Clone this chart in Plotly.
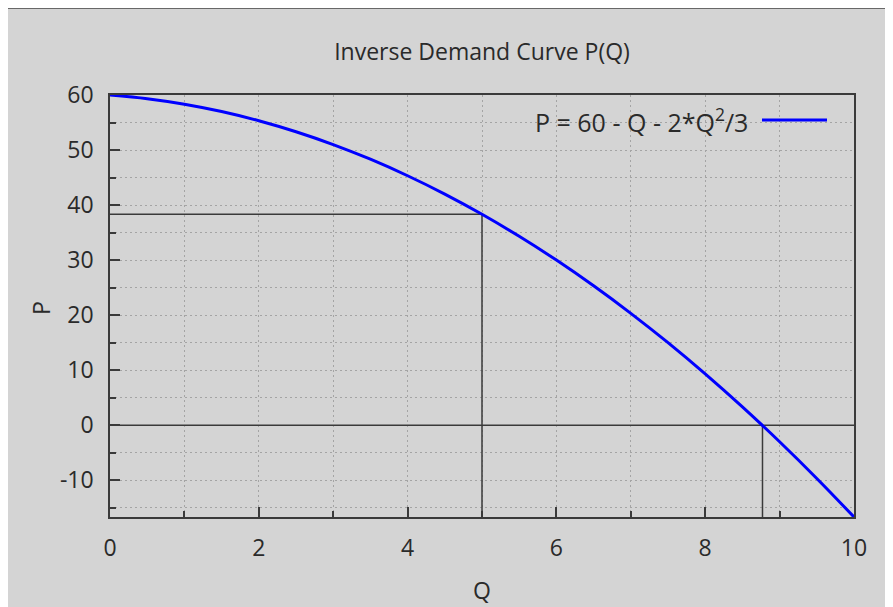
import plotly.graph_objects as go

# Data
Q = [0, 0.5, 1, 1.5, 2, 2.5, 3, 3.5, 4, 4.5, 5, 5.5, 6, 6.5, 7, 7.5, 8, 8.5, 9, 9.5, 10]
P = [60, 59.33, 58.33, 57.0, 55.33, 53.33, 51.0, 48.33, 45.33, 42.0, 38.33,
     34.33, 30.0, 25.33, 20.33, 15.0, 9.33, 3.33, -3.0, -9.67, -16.67]
q_point = 5
p_point = 38.33
q_zero = 8.77
x_ticks = [0, 2, 4, 6, 8, 10]
x_tick_labels = ["0", "2", "4", "6", "8", "10"]
y_ticks = [-10, 0, 10, 20, 30, 40, 50, 60]
y_tick_labels = ["-10", "0", "10", "20", "30", "40", "50", "60"]
legend_label = "P = 60 - Q - 2*Q<sup>2</sup>/3"
title_text = "Inverse Demand Curve P(Q)"

ymin = P[-1]
ymax = P[0]
xmin = Q[0]
xmax = Q[-1]

BG = "#d4d4d4"
TXT = "#2a2a2a"
LINE = "#3a3a3a"
GRID = "#a4a4a4"
GDASH = "2px,3px"
FONT = "Open Sans"
FS = 23

# page offset (body margin) compensation
OFF = 8
W, H = 893, 607
L, R, T, B = 110 - OFF, 39 + OFF, 95 - OFF, 90 + OFF
pw = W - L - R
ph = H - T - B

def px(x):
    return (x - OFF - L) / pw

def py(y):
    return (H - B - (y - OFF)) / ph

fig = go.Figure()

# reference lines
fig.add_trace(go.Scatter(x=[xmin, q_point, q_point], y=[p_point, p_point, ymin],
                         mode="lines", line=dict(color=LINE, width=1.5),
                         showlegend=False, hoverinfo="skip"))
fig.add_trace(go.Scatter(x=[xmin, xmax], y=[0, 0], mode="lines",
                         line=dict(color=LINE, width=1.5), showlegend=False,
                         hoverinfo="skip"))
fig.add_trace(go.Scatter(x=[q_zero, q_zero], y=[ymin, 0], mode="lines",
                         line=dict(color=LINE, width=1.5), showlegend=False,
                         hoverinfo="skip"))
# curve
fig.add_trace(go.Scatter(x=Q, y=P, mode="lines", line=dict(color="#0000ff", width=3, shape="spline"),
                         showlegend=False, name="P"))

fig.update_layout(
    width=W, height=H,
    margin=dict(l=L, r=R, t=T, b=B, autoexpand=False),
    paper_bgcolor=BG, plot_bgcolor=BG,
    font=dict(family=FONT, color=TXT, size=FS),
    title=dict(text=title_text, x=px(482), xref="paper", xanchor="center",
               y=1 - (52 - OFF) / H, yanchor="middle", font=dict(size=FS, family=FONT, color=TXT)),
    xaxis=dict(range=[xmin, xmax], tickvals=x_ticks, ticktext=x_tick_labels,
               ticks="inside", ticklen=10,
               tickwidth=1.5, tickcolor=LINE, showline=True, linecolor=LINE, linewidth=1.5,
               mirror=True, showgrid=True, gridcolor=GRID, griddash=GDASH, gridwidth=1,
               zeroline=False, tickfont=dict(size=FS), ticklabelstandoff=10, automargin=False,
               minor=dict(dtick=1, ticks="inside", ticklen=6, tickcolor=LINE,
                          showgrid=True, gridcolor=GRID, griddash=GDASH, gridwidth=1)),
    yaxis=dict(range=[ymin, ymax], tickvals=y_ticks, ticktext=y_tick_labels,
               ticks="inside", ticklen=10,
               tickwidth=1.5, tickcolor=LINE, showline=True, linecolor=LINE, linewidth=1.5,
               mirror=True, showgrid=True, gridcolor=GRID, griddash=GDASH, gridwidth=1,
               zeroline=False, tickfont=dict(size=FS), ticklabelstandoff=10, automargin=False,
               minor=dict(dtick=5, tick0=0, ticks="inside", ticklen=6, tickcolor=LINE,
                          showgrid=True, gridcolor=GRID, griddash=GDASH, gridwidth=1)),
)

# axis titles
fig.add_annotation(text="Q", xref="paper", yref="paper", x=px(482), y=py(590),
                   xanchor="center", yanchor="middle", showarrow=False,
                   font=dict(size=FS, color=TXT, family=FONT))
fig.add_annotation(text="P", xref="paper", yref="paper", x=px(41), y=py(308),
                   xanchor="center", yanchor="middle", showarrow=False, textangle=-90,
                   font=dict(size=FS, color=TXT, family=FONT))

# legend (gnuplot style: text then sample)
fig.add_annotation(text=legend_label, xref="paper", yref="paper",
                   x=px(750), y=py(120), xanchor="right", yanchor="middle",
                   showarrow=False, font=dict(size=25, color=TXT, family=FONT))
fig.add_shape(type="line", xref="paper", yref="paper", x0=px(762), x1=px(827),
              y0=py(120), y1=py(120), line=dict(color="#0000ff", width=3))

# outer frame lines (left and top)
fig.add_shape(type="line", xref="paper", yref="paper", x0=px(6), x1=px(6),
              y0=py(8), y1=py(H + 20), line=dict(color="#444444", width=1.5))
fig.add_shape(type="line", xref="paper", yref="paper", x0=px(6), x1=px(W + 20),
              y0=py(8), y1=py(8), line=dict(color="#444444", width=1.5))

fig.write_html("out.html")
